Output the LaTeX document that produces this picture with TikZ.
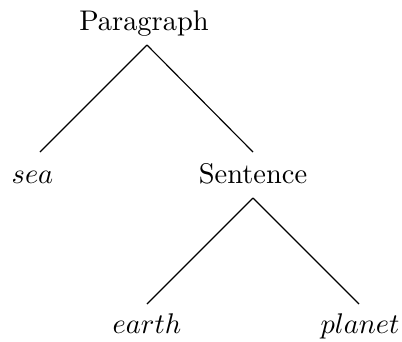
\documentclass[tikz,border=0pt]{standalone}
\usetikzlibrary{calc}
\begin{document}
\begin{tikzpicture}[x=0.3516pt,y=-0.3516pt,
  lbl/.style={inner sep=0pt,anchor=base},
  edge/.style={line width=0.4pt}]
\useasboundingbox (0,0) rectangle (402,341);
\node[lbl] (P) at (144,30) {Paragraph};
\node[lbl] (sea) at (32.5,183) {$sea$};
\node[lbl] (S) at (253,183) {Sentence};
\node[lbl] (e) at (147,333) {$earth$};
\node[lbl] (pl) at (360,333) {$planet$};
\draw[edge] ($(P.base)+(3,15)$) -- ($(sea.base)+(7.5,-31)$);
\draw[edge] ($(P.base)+(3,15)$) -- ($(S.base)+(0,-31)$);
\draw[edge] ($(S.base)+(0,15)$) -- ($(e.base)+(0,-29)$);
\draw[edge] ($(S.base)+(0,15)$) -- ($(pl.base)+(-1,-29)$);
\end{tikzpicture}
\end{document}
